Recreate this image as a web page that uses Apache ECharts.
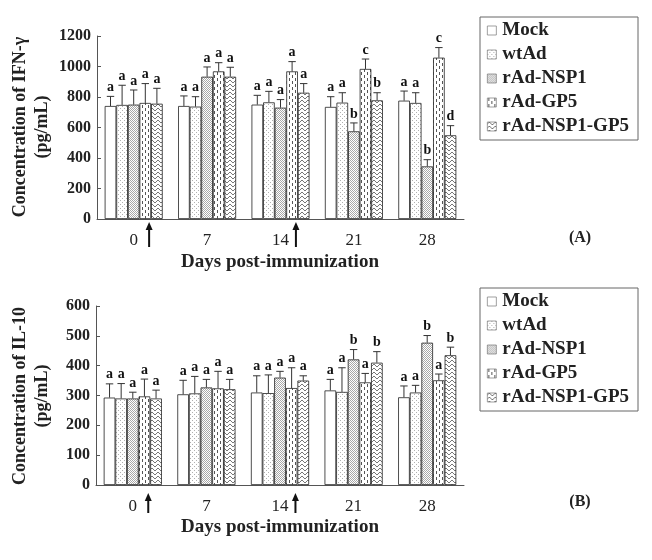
<!DOCTYPE html>
<html><head><meta charset="utf-8">
<script src="https://cdn.jsdelivr.net/npm/echarts@6/dist/echarts.min.js"></script>
<style>html,body{margin:0;padding:0;background:#fff}#c{width:652px;height:560px}</style>
</head><body><div id="c"></div>
<script>
const days = ['0', '7', '14', '21', '28'];
const groups = ['Mock', 'wtAd', 'rAd-NSP1', 'rAd-GP5', 'rAd-NSP1-GP5'];

// IFN-gamma (pg/mL): mean, SD, significance letters per group across days
const ifnMock = [741, 741, 750, 735, 776];
const ifnWtAd = [748, 737, 765, 763, 761];
const ifnNSP1 = [750, 933, 730, 575, 345];
const ifnGP5 = [761, 968, 968, 984, 1058];
const ifnNSP1GP5 = [756, 933, 828, 778, 549];
const ifnSdMock = [63, 66, 61, 67, 63];
const ifnSdWtAd = [129, 65, 72, 65, 67];
const ifnSdNSP1 = [96, 64, 53, 55, 44];
const ifnSdGP5 = [127, 57, 64, 65, 66];
const ifnSdNSP1GP5 = [101, 62, 60, 50, 63];
const ifnLetMock = ['a', 'a', 'a', 'a', 'a'];
const ifnLetWtAd = ['a', 'a', 'a', 'a', 'a'];
const ifnLetNSP1 = ['a', 'a', 'a', 'b', 'b'];
const ifnLetGP5 = ['a', 'a', 'a', 'c', 'c'];
const ifnLetNSP1GP5 = ['a', 'a', 'a', 'b', 'd'];

// IL-10 (pg/mL)
const ilMock = [293, 304, 310, 317, 294];
const ilWtAd = [290, 307, 308, 312, 310];
const ilNSP1 = [290, 327, 360, 421, 477];
const ilGP5 = [297, 324, 325, 344, 351];
const ilNSP1GP5 = [290, 321, 350, 410, 435];
const ilSdMock = [46, 47, 56, 37, 38];
const ilSdWtAd = [50, 57, 61, 81, 24];
const ilSdNSP1 = [21, 27, 21, 33, 24];
const ilSdGP5 = [58, 57, 68, 30, 21];
const ilSdNSP1GP5 = [28, 33, 16, 37, 27];
const ilLetMock = ['a', 'a', 'a', 'a', 'a'];
const ilLetWtAd = ['a', 'a', 'a', 'a', 'a'];
const ilLetNSP1 = ['a', 'a', 'a', 'b', 'b'];
const ilLetGP5 = ['a', 'a', 'a', 'a', 'a'];
const ilLetNSP1GP5 = ['a', 'a', 'a', 'b', 'b'];

const ifnTicks = {min: 0, max: 1200, interval: 200};
const ilTicks = {min: 0, max: 600, interval: 100};

const ifnMeans = [ifnMock, ifnWtAd, ifnNSP1, ifnGP5, ifnNSP1GP5];
const ifnSds = [ifnSdMock, ifnSdWtAd, ifnSdNSP1, ifnSdGP5, ifnSdNSP1GP5];
const ifnLets = [ifnLetMock, ifnLetWtAd, ifnLetNSP1, ifnLetGP5, ifnLetNSP1GP5];
const ilMeans = [ilMock, ilWtAd, ilNSP1, ilGP5, ilNSP1GP5];
const ilSds = [ilSdMock, ilSdWtAd, ilSdNSP1, ilSdGP5, ilSdNSP1GP5];
const ilLets = [ilLetMock, ilLetWtAd, ilLetNSP1, ilLetGP5, ilLetNSP1GP5];

const FONT = "'Liberation Serif', 'Times New Roman', serif";
const BAR_PCT = 0.158;

function pat(w, h, color, pts) {
  const c = document.createElement('canvas');
  c.width = w; c.height = h;
  const g = c.getContext('2d');
  g.fillStyle = '#fff'; g.fillRect(0, 0, w, h);
  g.fillStyle = color;
  pts.forEach(p => g.fillRect(p[0], p[1], 1, 1));
  return {image: c, repeat: 'repeat'};
}
const fills = [
  '#ffffff',
  pat(4, 4, '#b0b0b0', [[0, 0], [2, 2]]),
  pat(2, 2, '#a8a8a8', [[0, 0], [1, 1]]),
  pat(6, 6, '#555', [[1, 0], [1, 1], [1, 2], [4, 3], [4, 4], [4, 5]]),
  pat(6, 4, '#777', [[0, 1], [1, 0], [2, 0], [3, 1], [4, 2], [5, 2]])
];

const series = [];
function addSet(means, sds, lets, gi) {
  means.forEach((m, i) => {
    series.push({
      name: groups[i], type: 'bar', xAxisIndex: gi, yAxisIndex: gi,
      data: m, barWidth: (BAR_PCT * 100) + '%', barGap: '0%',
      itemStyle: {color: fills[i], borderColor: '#222', borderWidth: 0.8},
      emphasis: {disabled: true}, silent: true
    });
  });
  means.forEach((m, i) => {
    const data = m.map((v, k) => [k, v, v + sds[i][k], lets[i][k]]);
    series.push({
      name: groups[i], type: 'custom', xAxisIndex: gi, yAxisIndex: gi, z: 5,
      data: data, silent: true,
      renderItem: function (params, api) {
        const cx = api.coord([api.value(0), api.value(1)]);
        const top = api.coord([api.value(0), api.value(2)]);
        const band = api.size([1, 0])[0];
        const bw = band * BAR_PCT;
        const x = cx[0] + (i - 2) * bw;
        const half = bw * 0.32;
        return {
          type: 'group', children: [
            {type: 'line', shape: {x1: x, y1: cx[1], x2: x, y2: top[1]}, style: {stroke: '#333', lineWidth: 1}},
            {type: 'line', shape: {x1: x - half, y1: top[1], x2: x + half, y2: top[1]}, style: {stroke: '#333', lineWidth: 1}},
            {type: 'text', x: x, y: top[1] - 2, style: {text: api.value(3), fill: '#111', font: 'bold 14px ' + FONT, textAlign: 'center', textVerticalAlign: 'bottom'}}
          ]
        };
      }
    });
  });
}
addSet(ifnMeans, ifnSds, ifnLets, 0);
addSet(ilMeans, ilSds, ilLets, 1);

const axisLine = {lineStyle: {color: '#555', width: 1}};
function xAx(gi) {
  return {
    type: 'category', gridIndex: gi, data: days, boundaryGap: true,
    axisLine: axisLine, axisTick: {inside: true, length: 4, interval: 0, lineStyle: {color: '#555'}},
    axisLabel: {fontFamily: FONT, fontSize: 17, color: '#222', margin: 13}
  };
}
function yAx(gi, t) {
  return {
    type: 'value', gridIndex: gi, min: t.min, max: t.max, interval: t.interval,
    axisLine: Object.assign({show: true}, axisLine), axisTick: {show: true, inside: true, length: 4, lineStyle: {color: '#555'}},
    splitLine: {show: false},
    axisLabel: {fontFamily: FONT, fontSize: 16, fontWeight: 'bold', color: '#222', margin: 6, formatter: v => String(v)}
  };
}
function legend(top) {
  return {
    data: groups, orient: 'vertical', left: 480, top: top,
    itemWidth: 9, itemHeight: 9, itemGap: 5, icon: 'rect',
    itemStyle: {borderColor: '#777', borderWidth: 0.7},
    borderColor: '#666', borderWidth: 1, padding: [4, 9, 4, 7],
    textStyle: {fontFamily: FONT, fontSize: 19, fontWeight: 'bold', color: '#222', padding: [0, 0, 0, 1]},
    selectedMode: false
  };
}
function txt(x, y, s, size, rot) {
  return {type: 'text', x: x, y: y, rotation: rot || 0,
    style: {text: s, fill: '#222', font: 'bold ' + size + 'px ' + FONT, textAlign: 'center', textVerticalAlign: 'middle'}};
}

const chart = echarts.init(document.getElementById('c'), null, {renderer: 'canvas'});
chart.setOption({
  animation: false,
  backgroundColor: '#fff',
  grid: [
    {left: 97, top: 36, width: 367, height: 183},
    {left: 96, top: 306, width: 368, height: 179}
  ],
  xAxis: [xAx(0), xAx(1)],
  yAxis: [yAx(0, ifnTicks), yAx(1, ilTicks)],
  legend: [legend(17), legend(288)],
  series: series
});

function arrow(x, yTip, yEnd) {
  return [
    {type: 'line', shape: {x1: x, y1: yTip + 4, x2: x, y2: yEnd}, style: {stroke: '#111', lineWidth: 2}},
    {type: 'polygon', shape: {points: [[x, yTip], [x - 3.5, yTip + 8], [x + 3.5, yTip + 8]]}, style: {fill: '#111'}}
  ];
}
const tipOffset = [3, 8];
const g = [];
[0, 1].forEach(gi => {
  const band = chart.convertToPixel({xAxisIndex: gi}, 1) - chart.convertToPixel({xAxisIndex: gi}, 0);
  const yBase = chart.convertToPixel({yAxisIndex: gi}, 0);
  [0, 2].forEach(ci => {
    const x = chart.convertToPixel({xAxisIndex: gi}, ci) + band * 0.21;
    arrow(x, yBase + tipOffset[gi], yBase + 28).forEach(e => g.push(e));
  });
});
g.push(txt(20, 127, 'Concentration of IFN-γ', 18, Math.PI / 2));
g.push(txt(42, 127, '(pg/mL)', 18, Math.PI / 2));
g.push(txt(280, 262, 'Days post-immunization', 19));
g.push(txt(580, 238, '(A)', 16));
g.push(txt(20, 396, 'Concentration of IL-10', 18, Math.PI / 2));
g.push(txt(42, 396, '(pg/mL)', 18, Math.PI / 2));
g.push(txt(280, 527, 'Days post-immunization', 19));
g.push(txt(580, 502, '(B)', 16));
chart.setOption({graphic: g});
</script></body></html>
